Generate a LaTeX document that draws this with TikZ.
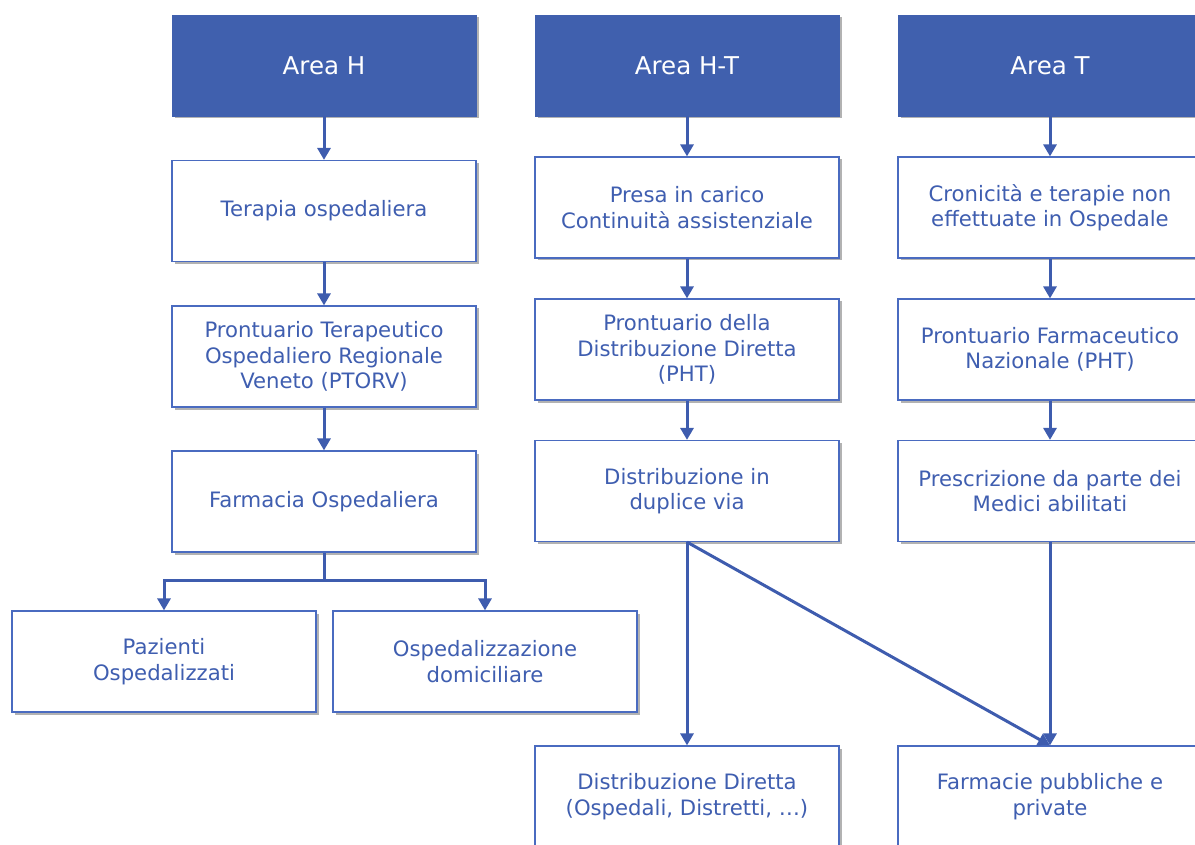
\documentclass[tikz,border=0pt]{standalone}
\usepackage{fontspec}
\setmainfont{DejaVu Sans}
\usetikzlibrary{shadows,arrows.meta}
\definecolor{hdr}{HTML}{4060AE}
\definecolor{bx}{HTML}{4A6BC0}
\definecolor{tx}{HTML}{3F5EB0}
\definecolor{ar}{HTML}{3E5CAE}
\tikzset{
  hdrbox/.style={draw=hdr, fill=hdr, minimum width=304pt, minimum height=101pt, text=white,
    font=\fontsize{24.5}{30}\selectfont, drop shadow={shadow xshift=2.5pt, shadow yshift=-2.5pt, fill=black, opacity=0.3}},
  infobox/.style={draw=bx, line width=1.2pt, fill=white, minimum width=304pt, minimum height=101pt, text=tx,
    align=center, font=\fontsize{21.2}{25.5}\selectfont, drop shadow={shadow xshift=2.5pt, shadow yshift=-2.5pt, fill=black, opacity=0.3}},
  flow/.style={draw=ar, line width=3pt, -{Triangle[length=12pt,width=13pt]}},
  link/.style={draw=ar, line width=3pt},
}
\begin{document}
\begin{tikzpicture}[x=1pt,y=-1pt]
\useasboundingbox (0,0) rectangle (1195,845);
\begin{scope}
\clip (0,0) rectangle (1195,845);
% headers
\node[hdrbox] (hH) at (324,65.5) {Area H};
\node[hdrbox] (hHT) at (687,65.5) {Area H-T};
\node[hdrbox] (hT) at (1050,65.5) {Area T};
% column 1
\node[infobox] (c1a) at (324,211) {Terapia ospedaliera};
\node[infobox] (c1b) at (324,356.5) {Prontuario Terapeutico\\Ospedaliero Regionale\\Veneto (PTORV)};
\node[infobox] (c1c) at (324,501.5) {Farmacia Ospedaliera};
\node[infobox] (c1d) at (164,661.5) {Pazienti\\Ospedalizzati};
\node[infobox] (c1e) at (485,661.5) {Ospedalizzazione\\domiciliare};
% column 2
\node[infobox] (c2a) at (687,207.5) {Presa in carico\\Continuità assistenziale};
\node[infobox] (c2b) at (687,349.5) {Prontuario della\\Distribuzione Diretta\\(PHT)};
\node[infobox] (c2c) at (687,491) {Distribuzione in\\duplice via};
\node[infobox] (c2d) at (687,796.5) {Distribuzione Diretta\\(Ospedali, Distretti, …)};
% column 3
\node[infobox] (c3a) at (1050,207.5) {Cronicità e terapie non\\effettuate in Ospedale};
\node[infobox] (c3b) at (1050,349.5) {Prontuario Farmaceutico\\Nazionale (PHT)};
\node[infobox] (c3c) at (1050,491) {Prescrizione da parte dei\\Medici abilitati};
\node[infobox] (c3d) at (1050,796.5) {Farmacie pubbliche e\\private};
% arrows
\draw[flow] (hH) -- (c1a);
\draw[flow] (c1a) -- (c1b);
\draw[flow] (c1b) -- (c1c);
\coordinate (fork) at (324,580);
\draw[link] (c1c.south) -- (fork);
\draw[flow] (fork) -| (c1d.north);
\draw[flow] (fork) -| (c1e.north);
\draw[flow] (hHT) -- (c2a);
\draw[flow] (c2a) -- (c2b);
\draw[flow] (c2b) -- (c2c);
\draw[flow] (c2c.south) -- (c2d.north);
\draw[flow] (c2c.south) -- (c3d.north);
\draw[flow] (hT) -- (c3a);
\draw[flow] (c3a) -- (c3b);
\draw[flow] (c3b) -- (c3c);
\draw[flow] (c3c) -- (c3d);
\end{scope}
\end{tikzpicture}
\end{document}
